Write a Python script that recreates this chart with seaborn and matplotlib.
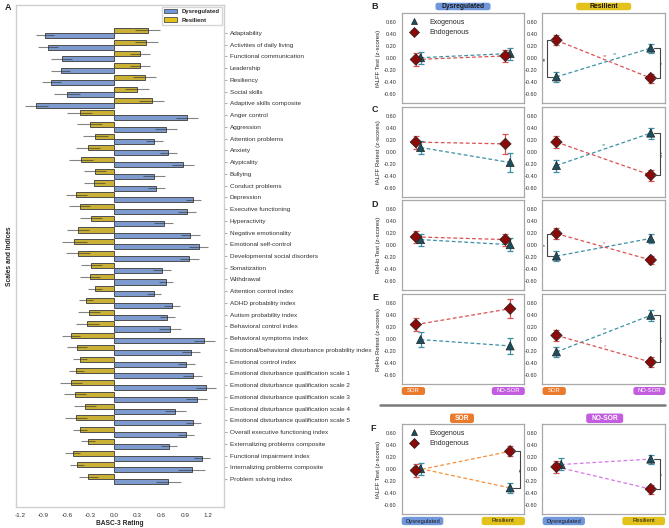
import matplotlib
matplotlib.use("Agg")
import matplotlib.pyplot as plt
import numpy as np
import pandas as pd
import seaborn as sns
from matplotlib.lines import Line2D
from matplotlib.patches import Patch, FancyBboxPatch

# ---------------- data ----------------
categories = [
    "Adaptability", "Activities of daily living", "Functional communication", "Leadership",
    "Resiliency", "Social skills", "Adaptive skills composite", "Anger control", "Aggression",
    "Attention problems", "Anxiety", "Atypicality", "Bullying", "Conduct problems", "Depression",
    "Executive functioning", "Hyperactivity", "Negative emotionality", "Emotional self-control",
    "Developmental social disorders", "Somatization", "Withdrawal", "Attention control index",
    "ADHD probability index", "Autism probability index", "Behavioral control index",
    "Behavioral symptoms index", "Emotional/behavioral disturbance probability index",
    "Emotional control index", "Emotional disturbance qualification scale 1",
    "Emotional disturbance qualification scale 2", "Emotional disturbance qualification scale 3",
    "Emotional disturbance qualification scale 4", "Emotional disturbance qualification scale 5",
    "Overall executive functioning index", "Externalizing problems composite",
    "Functional impairment index", "Internalizing problems composite", "Problem solving index",
]
resilient_mean = [0.43, 0.41, 0.33, 0.33, 0.39, 0.29, 0.48, -0.44, -0.31, -0.24, -0.33, -0.42, -0.24,
                  -0.25, -0.48, -0.44, -0.30, -0.46, -0.51, -0.46, -0.29, -0.31, -0.24, -0.36, -0.32,
                  -0.34, -0.55, -0.47, -0.44, -0.48, -0.55, -0.50, -0.37, -0.48, -0.44, -0.33, -0.53,
                  -0.47, -0.33]
resilient_err = [0.16, 0.15, 0.13, 0.13, 0.15, 0.15, 0.16, 0.16, 0.16, 0.16, 0.15, 0.15, 0.14,
                 0.14, 0.13, 0.13, 0.14, 0.14, 0.16, 0.15, 0.13, 0.13, 0.09, 0.09, 0.14,
                 0.15, 0.12, 0.13, 0.09, 0.10, 0.14, 0.14, 0.14, 0.14, 0.09, 0.09, 0.09,
                 0.09, 0.12]
dysregulated_mean = [-0.88, -0.84, -0.67, -0.68, -0.80, -0.60, -0.99, 0.93, 0.66, 0.51, 0.69, 0.88, 0.51,
                     0.54, 1.01, 0.93, 0.63, 0.97, 1.08, 0.96, 0.61, 0.66, 0.51, 0.74, 0.68,
                     0.71, 1.15, 0.98, 0.92, 1.00, 1.17, 1.05, 0.78, 1.01, 0.92, 0.70, 1.12,
                     0.99, 0.69]
dysregulated_err = [0.12, 0.13, 0.13, 0.12, 0.12, 0.16, 0.15, 0.14, 0.14, 0.11, 0.11, 0.14, 0.14,
                    0.11, 0.10, 0.11, 0.12, 0.12, 0.12, 0.12, 0.12, 0.09, 0.09, 0.10, 0.10,
                    0.14, 0.13, 0.12, 0.11, 0.12, 0.13, 0.13, 0.13, 0.10, 0.10, 0.10, 0.10,
                    0.17, 0.16]
x_ticks_a = [-1.2, -0.9, -0.6, -0.3, 0.0, 0.3, 0.6, 0.9, 1.2]

measures = ["fALFF Test", "fALFF Retest", "ReHo Test", "ReHo Retest"]
groups = ["Dysregulated", "Resilient"]
sor_groups = ["SOR", "NO-SOR"]
y_ticks = [-0.6, -0.4, -0.2, 0.0, 0.2, 0.4, 0.6]
# per measure: [SOR, NO-SOR]
exo_dys_mean = [[0.01, 0.08], [0.07, -0.18], [0.09, 0.005], [-0.005, -0.11]]
exo_dys_err = [[0.10, 0.10], [0.115, 0.155], [0.10, 0.11], [0.13, 0.14]]
endo_dys_mean = [[-0.02, 0.04], [0.16, 0.13], [0.135, 0.09], [0.245, 0.51]]
endo_dys_err = [[0.11, 0.095], [0.11, 0.165], [0.095, 0.10], [0.11, 0.155]]
exo_res_mean = [[-0.31, 0.17], [-0.23, 0.31], [-0.185, 0.11], [-0.21, 0.40]]
exo_res_err = [[0.08, 0.075], [0.10, 0.09], [0.085, 0.08], [0.09, 0.09]]
endo_res_mean = [[0.30, -0.33], [0.16, -0.39], [0.19, -0.25], [0.065, -0.38]]
endo_res_err = [[0.085, 0.075], [0.10, 0.09], [0.09, 0.07], [0.09, 0.085]]

# ---------------- style ----------------
sns.set_style("white")
plt.rcParams["font.family"] = ["Liberation Sans", "DejaVu Sans"]

BLUE = "#7097dc"
YELLOW = "#e3c21c"
ORANGE = "#ea7a2c"
PURPLE = "#c35ddf"
EXO_LINE = "#3d8fa6"
EXO_FACE = "#1c4f5f"
ENDO_LINE = "#d95252"
ENDO_FACE = "#8a0a0a"
SOR_LINE = "#f4903a"
NOSOR_LINE = "#d67ae8"
SPINE = "#a8a8a8"

W, H = 669, 528
fig = plt.figure(figsize=(W / 100, H / 100), dpi=100)


def fx(px):
    return px / W


def fy(py):
    return 1 - py / H


def rect(left, top, width, height):
    return [fx(left), fy(top + height), width / W, height / H]


# ---------------- Panel A ----------------
axA = fig.add_axes(rect(16, 5, 208, 502))
df_a = pd.DataFrame({
    "Scale": categories * 2,
    "Rating": resilient_mean + dysregulated_mean,
    "Group": ["Resilient"] * len(categories) + ["Dysregulated"] * len(categories),
})
sns.barplot(data=df_a, y="Scale", x="Rating", hue="Group", order=categories,
            hue_order=["Resilient", "Dysregulated"],
            palette={"Resilient": YELLOW, "Dysregulated": BLUE}, orient="h",
            errorbar=None, edgecolor="#4d4d4d", linewidth=0.7, width=0.86,
            legend=False, ax=axA)
for cont, errs in zip(axA.containers, [resilient_err, dysregulated_err]):
    centers = [p.get_y() + p.get_height() / 2 for p in cont]
    ends = [p.get_x() + p.get_width() for p in cont]
    axA.errorbar(ends, centers, xerr=errs, fmt="none", ecolor="#333333", alpha=0.6,
                 elinewidth=0.8, capsize=0, zorder=3)
axA.set_xlim(-1.25, 1.40)
axA.set_xticks(x_ticks_a)
axA.set_xticklabels([("%.1f" % v).replace("-0.0", "0.0") for v in x_ticks_a])
axA.yaxis.tick_right()
axA.tick_params(axis="y", labelsize=4.6, length=2.5, width=0.5, color="#888888",
                labelcolor="#333333", pad=1.5)
axA.tick_params(axis="x", labelsize=4.6, length=2.5, width=0.5, color="#888888",
                labelcolor="#333333", pad=1.5)
axA.set_xlabel("BASC-3 Rating", fontsize=4.8, fontweight="bold", labelpad=1.5)
axA.set_ylabel("Scales and Indices", fontsize=4.8, fontweight="bold", labelpad=2)
for s in axA.spines.values():
    s.set_color("#cfcfcf")
    s.set_linewidth(1.0)
axA.legend(handles=[Patch(fc=BLUE, ec="#4d4d4d", lw=0.6, label="Dysregulated"),
                    Patch(fc=YELLOW, ec="#4d4d4d", lw=0.6, label="Resilient")],
           loc="upper right", prop={"weight": "bold", "size": 4.3}, frameon=True,
           edgecolor="#cccccc", fancybox=False, borderaxespad=0.3, handlelength=2.2)
fig.text(fx(8), fy(8), "A", fontsize=6.5, fontweight="bold", ha="center", va="center")


# ---------------- helpers ----------------
def point_panel(ax, exo_m, exo_e, endo_m, endo_e, exo_dx, endo_dx, exo_lc, endo_lc):
    xs = np.array([0.0, 1.0])
    df = pd.DataFrame({
        "x": np.concatenate([xs + np.array(exo_dx), xs + np.array(endo_dx)]),
        "z": list(exo_m) + list(endo_m),
        "err": list(exo_e) + list(endo_e),
        "Condition": ["Exogenous"] * 2 + ["Endogenous"] * 2,
    })
    sns.lineplot(data=df, x="x", y="z", hue="Condition", style="Condition",
                 palette={"Exogenous": exo_lc, "Endogenous": endo_lc},
                 dashes={"Exogenous": (3, 2), "Endogenous": (3, 2)},
                 linewidth=0.9, legend=False, ax=ax, sort=False, zorder=2)
    for cond, ec in [("Exogenous", EXO_LINE), ("Endogenous", ENDO_LINE)]:
        sub = df[df["Condition"] == cond]
        ax.errorbar(sub["x"], sub["z"], yerr=sub["err"], fmt="none", ecolor=ec,
                    elinewidth=0.9, capsize=2.5, capthick=0.9, zorder=3)
    sns.scatterplot(data=df, x="x", y="z", hue="Condition", style="Condition",
                    palette={"Exogenous": EXO_FACE, "Endogenous": ENDO_FACE},
                    markers={"Exogenous": "^", "Endogenous": "D"},
                    s=34, edgecolor="#222222", linewidth=0.5, legend=False, ax=ax, zorder=4)
    ax.set_xlim(-0.15, 1.15)
    ax.set_ylim(-0.75, 0.75)
    ax.set_yticks(y_ticks)
    ax.set_yticklabels(["%.2f" % v for v in y_ticks])
    ax.set_xticks([0, 1])
    ax.set_xticklabels([])
    ax.set_xlabel("")
    ax.set_ylabel("")
    ax.tick_params(labelsize=4.0, length=2, width=0.5, color="#999999",
                   labelcolor="#333333", pad=1.5)
    for s in ax.spines.values():
        s.set_color(SPINE)
        s.set_linewidth(0.9)


def bracket(ax, x, y1, y2, text, side):
    d = 0.065
    if side == "left":
        xs = [x + d, x, x, x + d]
        tx = x - 0.02
    else:
        xs = [x - d, x, x, x - d]
        tx = x + 0.025
    ax.plot(xs, [y1, y1, y2, y2], color="#444444", lw=0.8, clip_on=False, zorder=5)
    ax.text(tx, (y1 + y2) / 2, text, rotation=90, ha="center", va="center",
            fontsize=4.2, color="#333333")


def pill(xc, yc, w, h, color, text, tcolor="#1a1a1a", bold=False, size=4.2):
    box = FancyBboxPatch((fx(xc - w / 2), fy(yc + h / 2)), w / W, h / H,
                         boxstyle="round,pad=0,rounding_size=0.004",
                         transform=fig.transFigure, fc=color, ec="none", zorder=5)
    fig.add_artist(box)
    fig.text(fx(xc), fy(yc), text, ha="center", va="center", color=tcolor,
             fontsize=size, fontweight="bold" if bold else "normal", zorder=6)


def legend_cond(ax):
    handles = [Line2D([], [], ls="none", marker="^", markersize=5, mfc=EXO_FACE, mec="#222222",
                      mew=0.5, label="Exogenous"),
               Line2D([], [], ls="none", marker="D", markersize=5, mfc=ENDO_FACE, mec="#222222",
                      mew=0.5, label="Endogenous")]
    ax.legend(handles=handles, loc="upper left", frameon=False, fontsize=5,
              handletextpad=1.2, borderaxespad=0.4, labelspacing=0.5)


# ---------------- Panels B-E ----------------
col_left = [401.7, 542.3]
col_w = 122.6
row_top = [13.3, 106.7, 200.0, 294.3]
row_h = 90
letters = ["B", "C", "D", "E"]
letter_y = [6.7, 110, 205, 298]

# dodges per row for left (Dysregulated) column
dys_exo_dx = [[0.05, 0.0], [0.05, 0.0], [0.05, 0.0], [0.05, 0.0]]
dys_endo_dx = [[0.0, -0.05], [0.0, -0.05], [0.0, -0.05], [0.0, 0.0]]

axes_grid = []
for r, meas in enumerate(measures):
    ax_d = fig.add_axes(rect(col_left[0], row_top[r], col_w, row_h))
    point_panel(ax_d, exo_dys_mean[r], exo_dys_err[r], endo_dys_mean[r], endo_dys_err[r],
                dys_exo_dx[r], dys_endo_dx[r], EXO_LINE, ENDO_LINE)
    ax_d.set_ylabel(meas + " (z-scores)", fontsize=4.3, labelpad=2)
    ax_r = fig.add_axes(rect(col_left[1], row_top[r], col_w, row_h))
    point_panel(ax_r, exo_res_mean[r], exo_res_err[r], endo_res_mean[r], endo_res_err[r],
                [0, 0], [0, 0], EXO_LINE, ENDO_LINE)
    axes_grid.append((ax_d, ax_r))
    fig.text(fx(375), fy(letter_y[r]), letters[r], fontsize=6.5, fontweight="bold",
             ha="center", va="center")

legend_cond(axes_grid[0][0])

# significance marks
axB = axes_grid[0][1]
bracket(axB, -0.10, endo_res_mean[0][0], exo_res_mean[0][0], "**", "left")
bracket(axB, 1.10, exo_res_mean[0][1], endo_res_mean[0][1], "*", "right")
axB.text(0.52, 0.03, "**", color=ENDO_LINE, fontsize=4, ha="center", va="center")
axB.text(0.62, 0.07, "**", color=EXO_LINE, fontsize=4, ha="center", va="center")
axC = axes_grid[1][1]
bracket(axC, 1.10, exo_res_mean[1][1], endo_res_mean[1][1], "***", "right")
axC.text(0.50, 0.11, "**", color=EXO_LINE, fontsize=4, ha="center", va="center")
axD = axes_grid[2][1]
bracket(axD, -0.10, endo_res_mean[2][0], exo_res_mean[2][0], "*", "left")
axD.text(0.50, 0.02, "*", color=ENDO_LINE, fontsize=4, ha="center", va="center")
axE = axes_grid[3][1]
bracket(axE, 1.10, exo_res_mean[3][1], endo_res_mean[3][1], "***", "right")
axE.text(0.51, 0.16, "**", color=EXO_LINE, fontsize=4, ha="center", va="center")
axE.text(0.51, -0.12, "*", color=ENDO_LINE, fontsize=4, ha="center", va="center")

# column header pills
pill(463, 6.5, 55, 7.5, BLUE, groups[0], bold=True, size=4.9)
pill(603.7, 6.5, 55, 7.5, YELLOW, groups[1], bold=True, size=4.9)
# SOR / NO-SOR pills under E
pill(413.4, 391, 23.3, 8, ORANGE, sor_groups[0], tcolor="white")
pill(508.3, 391, 33, 8, PURPLE, sor_groups[1], tcolor="white")
pill(554.2, 391, 23.3, 8, ORANGE, sor_groups[0], tcolor="white")
pill(649.4, 391, 32, 8, PURPLE, sor_groups[1], tcolor="white")

# separator
fig.add_artist(Line2D([fx(380), fx(665)], [fy(405), fy(405)], transform=fig.transFigure,
                      color="#7a7a7a", lw=1.8))

# ---------------- Panel F ----------------
f_lines = [SOR_LINE, NOSOR_LINE]
axes_f = []
for c in range(2):
    axf = fig.add_axes(rect(col_left[c], 424.3, col_w, row_h))
    point_panel(axf,
                [exo_dys_mean[0][c], exo_res_mean[0][c]], [exo_dys_err[0][c], exo_res_err[0][c]],
                [endo_dys_mean[0][c], endo_res_mean[0][c]], [endo_dys_err[0][c], endo_res_err[0][c]],
                [0.05, 0.0], [0.0, 0.0], f_lines[c], f_lines[c])
    axes_f.append(axf)
axes_f[0].set_ylabel("fALFF Test (z-scores)", fontsize=4.3, labelpad=2)
legend_cond(axes_f[0])
bracket(axes_f[0], 1.10, endo_res_mean[0][0], exo_res_mean[0][0], "**", "right")
bracket(axes_f[1], 1.10, exo_res_mean[0][1], endo_res_mean[0][1], "*", "right")
fig.text(fx(373), fy(428.3), "F", fontsize=6.5, fontweight="bold", ha="center", va="center")

pill(462, 418.3, 24, 9.5, ORANGE, sor_groups[0], tcolor="white", bold=True, size=4.8)
pill(604.7, 418.3, 37, 9.5, PURPLE, sor_groups[1], tcolor="white", bold=True, size=4.8)
pill(422.5, 521, 41.6, 8.3, BLUE, groups[0])
pill(503.3, 521, 43.3, 8.3, YELLOW, groups[1])
pill(563.8, 521, 42.3, 8.3, BLUE, groups[0])
pill(643.7, 521, 42.7, 8.3, YELLOW, groups[1])

fig.savefig("out.png", dpi=100)
